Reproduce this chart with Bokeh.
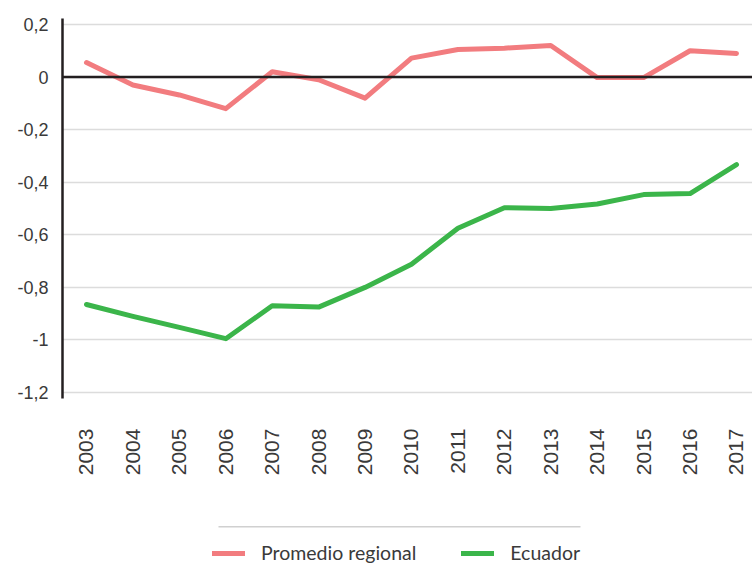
import math
from bokeh.plotting import figure
from bokeh.models import (Range1d, FixedTicker, Span, Legend, LegendItem,
                          BoxAnnotation, ColumnDataSource)
from bokeh.embed import file_html
from bokeh.resources import INLINE

years = [2003, 2004, 2005, 2006, 2007, 2008, 2009, 2010, 2011, 2012, 2013, 2014, 2015, 2016, 2017]
year_labels = [str(y) for y in years]
promedio_regional = [0.055, -0.03, -0.068, -0.12, 0.02, -0.01, -0.08, 0.072, 0.105, 0.11, 0.12,
                     -0.002, -0.002, 0.10, 0.09]
ecuador = [-0.865, -0.91, -0.952, -0.995, -0.87, -0.875, -0.80, -0.712, -0.575, -0.497, -0.50,
           -0.483, -0.447, -0.443, -0.333]
y_ticks = [0.2, 0.0, -0.2, -0.4, -0.6, -0.8, -1.0, -1.2]
y_tick_labels = ["0,2", "0", "-0,2", "-0,4", "-0,6", "-0,8", "-1", "-1,2"]
series_names = ["Promedio regional", "Ecuador"]
series_colors = ["#f27c7f", "#3bb54a"]

TXT = "#3a3a3a"
Y_TOP, Y_AXIS_END, Y_BOTTOM = 0.2228, -1.2228, -1.8616   # frame extends below to host legend

p = figure(width=752, height=566, output_backend="svg", toolbar_location=None,
           x_range=Range1d(2002.483, 2017.345), y_range=Range1d(Y_BOTTOM, Y_TOP),
           min_border_left=62, min_border_right=0, min_border_top=18, min_border_bottom=0)
p.outline_line_color = None
p.background_fill_color = "white"
p.border_fill_color = "white"

# grid
p.xgrid.grid_line_color = None
p.ygrid.grid_line_color = "#dcdcdc"
p.ygrid.grid_line_width = 1.5
p.ygrid.ticker = FixedTicker(ticks=y_ticks)

# y axis
p.yaxis.ticker = FixedTicker(ticks=y_ticks)
p.yaxis.bounds = (Y_AXIS_END, Y_TOP)
p.yaxis.major_label_overrides = {t: l for t, l in zip(y_ticks, y_tick_labels)}
p.yaxis.axis_line_color = "#231f20"
p.yaxis.axis_line_width = 2.5
p.yaxis.major_tick_line_color = None
p.yaxis.minor_tick_line_color = None
p.yaxis.major_tick_out = 0
p.yaxis.major_tick_in = 0
p.yaxis.major_label_standoff = 14
p.yaxis.major_label_text_font = "Liberation Sans"
p.yaxis.major_label_text_font_size = "18px"
p.yaxis.major_label_text_color = TXT

# x axis (sits at the bottom of the data area)
p.xaxis.fixed_location = Y_AXIS_END
p.xaxis.ticker = FixedTicker(ticks=years)
p.xaxis.major_label_overrides = {y: l for y, l in zip(years, year_labels)}
p.xaxis.axis_line_color = None
p.xaxis.major_tick_line_color = None
p.xaxis.minor_tick_line_color = None
p.xaxis.major_tick_out = 0
p.xaxis.major_tick_in = 0
p.xaxis.major_label_orientation = math.pi / 2
p.xaxis.major_label_standoff = 30
p.xaxis.major_label_text_font = "Liberation Sans"
p.xaxis.major_label_text_font_size = "21px"
p.xaxis.major_label_text_color = TXT

src = ColumnDataSource(dict(x=years, pr=promedio_regional, ec=ecuador))
r1 = p.line("x", "pr", source=src, line_color=series_colors[0], line_width=5,
            line_cap="round", line_join="round")
r2 = p.line("x", "ec", source=src, line_color=series_colors[1], line_width=5,
            line_cap="round", line_join="round")

zero = Span(location=0, dimension="width", line_color="#231f20", line_width=2.5)
p.add_layout(zero)

# thin separator above the legend
sep = BoxAnnotation(left=2005.843, right=2013.64, top=-1.7076, bottom=-1.7133,
                    fill_color="#d0d0d0", fill_alpha=1, line_color=None)
p.add_layout(sep)

legend = Legend(items=[LegendItem(label=series_names[0], renderers=[r1]),
                       LegendItem(label=series_names[1], renderers=[r2])],
                location=(150, 2), orientation="horizontal",
                border_line_color=None, background_fill_alpha=0,
                label_text_font="Lato", label_text_font_size="19.5px", label_text_color=TXT,
                glyph_width=33, glyph_height=20, label_height=20, label_standoff=16, spacing=45,
                padding=3, margin=0)
p.add_layout(legend, "center")

open("out.html", "w").write(file_html(p, INLINE))
